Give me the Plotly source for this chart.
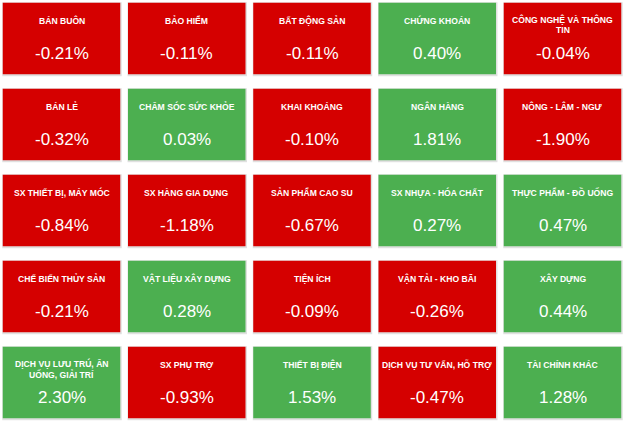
import plotly.graph_objects as go

# ---- data ----
sectors = [
    "BÁN BUÔN", "BẢO HIỂM", "BẤT ĐỘNG SẢN", "CHỨNG KHOÁN", "CÔNG NGHỆ VÀ THÔNG\nTIN",
    "BÁN LẺ", "CHĂM SÓC SỨC KHỎE", "KHAI KHOÁNG", "NGÂN HÀNG", "NÔNG - LÂM - NGƯ",
    "SX THIẾT BỊ, MÁY MÓC", "SX HÀNG GIA DỤNG", "SẢN PHẨM CAO SU", "SX NHỰA - HÓA CHẤT", "THỰC PHẨM - ĐỒ UỐNG",
    "CHẾ BIẾN THỦY SẢN", "VẬT LIỆU XÂY DỰNG", "TIỆN ÍCH", "VẬN TẢI - KHO BÃI", "XÂY DỰNG",
    "DỊCH VỤ LƯU TRÚ, ĂN\nUỐNG, GIẢI TRÍ", "SX PHỤ TRỢ", "THIẾT BỊ ĐIỆN", "DỊCH VỤ TƯ VẤN, HỖ TRỢ", "TÀI CHÍNH KHÁC",
]
changes = [
    -0.21, -0.11, -0.11, 0.40, -0.04,
    -0.32, 0.03, -0.10, 1.81, -1.90,
    -0.84, -1.18, -0.67, 0.27, 0.47,
    -0.21, 0.28, -0.09, -0.26, 0.44,
    2.30, -0.93, 1.53, -0.47, 1.28,
]
n_cols = 5

RED = "#d50000"
GREEN = "#4caf50"

fig = go.Figure()

# px -> data unit conversions (x pitch 125.25 px, y pitch 86 px)
XP, YP = 125.25, 86.0
hw = 58.75 / XP
hh = 35.75 / YP

shapes = []
annotations = []
for i, (name, val) in enumerate(zip(sectors, changes)):
    c = i % n_cols
    r = i // n_cols
    color = GREEN if val > 0 else RED
    # soft shadow
    shapes.append(dict(type="rect", xref="x", yref="y",
                       x0=c - hw - 0.5 / XP, x1=c + hw + 1.5 / XP,
                       y0=r - hh - 0.5 / YP, y1=r + hh + 2.0 / YP,
                       fillcolor="rgba(0,0,0,0.12)", line=dict(width=0), layer="below"))
    shapes.append(dict(type="rect", xref="x", yref="y",
                       x0=c - hw, x1=c + hw, y0=r - hh, y1=r + hh,
                       fillcolor=color, line=dict(width=0), layer="below"))
    lines = name.split("\n")
    offs = [-18.0] if len(lines) == 1 else [-19.5, -8.5]
    for ln, off in zip(lines, offs):
        annotations.append(dict(
            x=c, y=r + off / YP, xref="x", yref="y",
            text="<b>" + ln + "</b>", showarrow=False,
            xanchor="center", yanchor="middle",
            font=dict(family="Liberation Sans, Arial, sans-serif",
                      size=8.6, color="white"),
        ))
    annotations.append(dict(
        x=c, y=r + 15.0 / YP, xref="x", yref="y",
        text=f"{val:.2f}%", showarrow=False,
        xanchor="center", yanchor="middle",
        font=dict(family="Liberation Sans, Arial, sans-serif", size=17, color="white"),
    ))

fig.update_layout(
    width=624, height=423,
    margin=dict(l=0, r=0, t=0, b=0),
    paper_bgcolor="white", plot_bgcolor="white",
    shapes=shapes, annotations=annotations,
    showlegend=False,
    xaxis=dict(range=[-61.5 / XP, (624 - 61.5) / XP], visible=False, fixedrange=True),
    yaxis=dict(range=[(423 - 38.5) / YP, -38.5 / YP], visible=False, fixedrange=True),
)
fig.write_html("out.html")
